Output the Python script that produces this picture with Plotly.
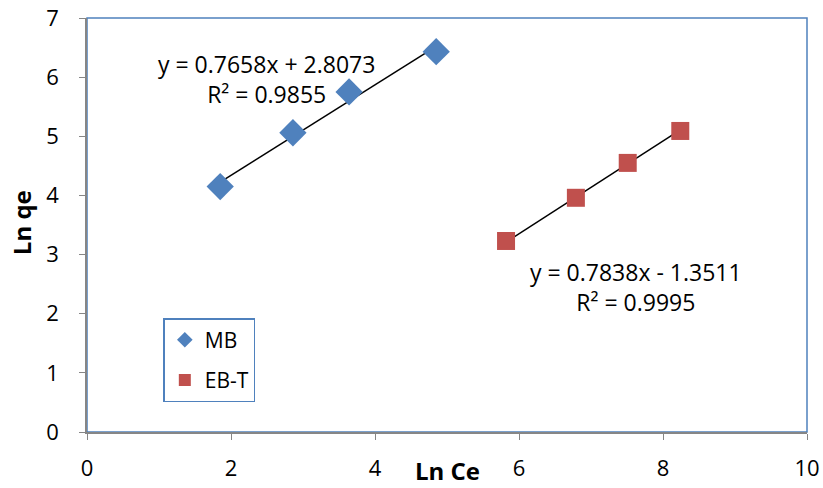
import plotly.graph_objects as go

# Freundlich isotherm data (ln Ce vs ln qe)
mb_lnce = [1.85, 2.86, 3.64, 4.85]
mb_lnqe = [4.15, 5.06, 5.75, 6.43]
ebt_lnce = [5.82, 6.79, 7.51, 8.24]
ebt_lnqe = [3.23, 3.96, 4.55, 5.09]

# Linear fits (slope, intercept, R²)
mb_fit = (0.7658, 2.8073, 0.9855)
ebt_fit = (0.7838, -1.3511, 0.9995)

x_ticks = [0, 2, 4, 6, 8, 10]
y_ticks = [0, 1, 2, 3, 4, 5, 6, 7]

FONT = "Open Sans"
BLUE = "#4F81BD"
RED = "#C0504D"

fig = go.Figure()


def fit_line(xs, fit):
    a, b, _ = fit
    x0, x1 = min(xs), max(xs)
    return [x0, x1], [a * x0 + b, a * x1 + b]


for xs, fit in ((mb_lnce, mb_fit), (ebt_lnce, ebt_fit)):
    lx, ly = fit_line(xs, fit)
    fig.add_trace(go.Scatter(x=lx, y=ly, mode="lines",
                             line=dict(color="black", width=1.5),
                             showlegend=False, hoverinfo="skip"))

fig.add_trace(go.Scatter(x=mb_lnce, y=mb_lnqe, mode="markers", name="MB",
                         legendgroup="mb",
                         marker=dict(symbol="diamond", size=21, color=BLUE)))
fig.add_trace(go.Scatter(x=ebt_lnce, y=ebt_lnqe, mode="markers", name="EB-T",
                         legendgroup="ebt",
                         marker=dict(symbol="square", size=18, color=RED)))


def eq_text(fit):
    a, b, r2 = fit
    sign = "+" if b >= 0 else "-"
    return f"y = {a:.4f}x {sign} {abs(b):.4f}<br>R² = {r2:.4f}"


fig.add_annotation(x=2.49, y=5.97, text=eq_text(mb_fit), showarrow=False,
                   font=dict(family=FONT, size=23, color="black"),
                   align="center", xanchor="center", yanchor="middle")
fig.add_annotation(x=7.63, y=2.45, text=eq_text(ebt_fit), showarrow=False,
                   font=dict(family=FONT, size=23, color="black"),
                   align="center", xanchor="center", yanchor="middle")

# Axis titles
fig.add_annotation(x=0.5, xref="paper", y=-0.092, yref="paper",
                   text="<b>Ln Ce</b>", showarrow=False,
                   font=dict(family=FONT, size=24, color="black"),
                   xanchor="center", yanchor="middle")
fig.add_annotation(x=-0.09, xref="paper", y=0.505, yref="paper",
                   text="<b>Ln qe</b>", showarrow=False, textangle=-90,
                   font=dict(family=FONT, size=24, color="black"),
                   xanchor="center", yanchor="middle")

fig.update_layout(
    width=823, height=488,
    margin=dict(l=87, r=16, t=18, b=56, autoexpand=False),
    paper_bgcolor="white", plot_bgcolor="white",
    font=dict(family=FONT, size=22, color="black"),
    legend=dict(x=0.106, y=0.275, xanchor="left", yanchor="top",
                bgcolor="white", bordercolor=BLUE, borderwidth=1.5,
                font=dict(family=FONT, size=21, color="black"),
                itemsizing="constant", tracegroupgap=10),
    shapes=[dict(type="rect", xref="paper", yref="paper", x0=0, y0=0, x1=1, y1=1,
                 line=dict(color=BLUE, width=1.5), layer="below")],
)

fig.update_xaxes(range=[0, 10], tickvals=x_ticks, showgrid=False, zeroline=False,
                 showline=True, linecolor="#868686", linewidth=1.5, automargin=False,
                 ticks="outside", ticklen=6, tickcolor="#868686",
                 ticklabelstandoff=10, tickfont=dict(family=FONT, size=22))
fig.update_yaxes(range=[0, 7], tickvals=y_ticks, showgrid=False, zeroline=False,
                 showline=True, linecolor="#868686", linewidth=1.5, automargin=False,
                 ticks="outside", ticklen=6, tickcolor="#868686",
                 ticklabelstandoff=16, tickfont=dict(family=FONT, size=22))

fig.write_html("out.html")
